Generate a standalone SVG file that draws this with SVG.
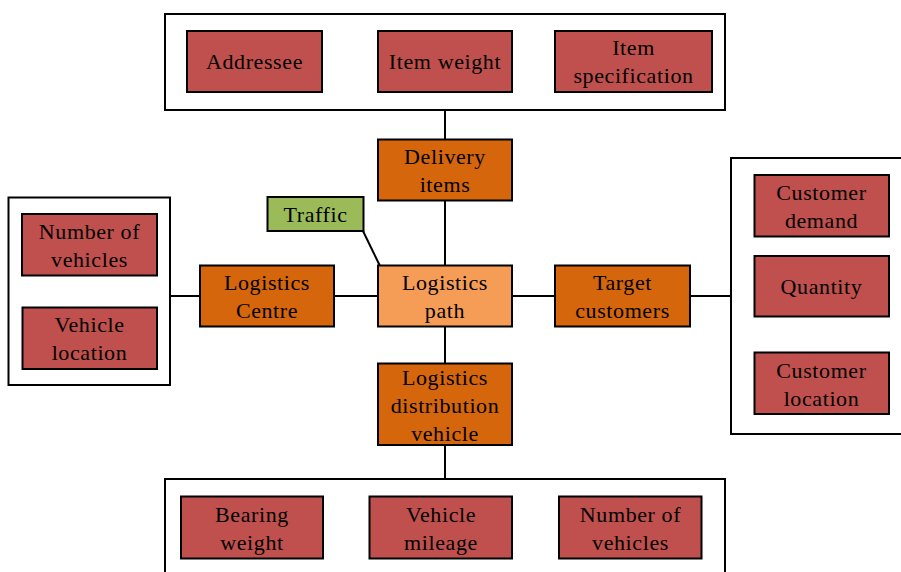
<svg xmlns="http://www.w3.org/2000/svg" width="901" height="572" viewBox="0 0 901 572">
<style>
.c,.r,.o,.p,.g{stroke:#000;stroke-width:2}
.c{fill:#fff}
.r{fill:#C0504D}
.o{fill:#D5660B}
.p{fill:#F59D57}
.g{fill:#9BBB59}
text{font-family:"Liberation Serif","Times New Roman",serif;font-size:22px;letter-spacing:0.6px;text-anchor:middle;fill:#000}
.l line{stroke:#000;stroke-width:2}
</style>
<rect width="901" height="572" fill="#fff"/>
<g class="l" id="connectors">
<line x1="445" y1="110" x2="445" y2="139"/>
<line x1="445" y1="200" x2="445" y2="266"/>
<line x1="445" y1="327" x2="445" y2="363"/>
<line x1="445" y1="445" x2="445" y2="479"/>
<line x1="170" y1="296" x2="200" y2="296"/>
<line x1="334" y1="296" x2="378" y2="296"/>
<line x1="512" y1="296" x2="555" y2="296"/>
<line x1="690" y1="296" x2="731" y2="296"/>
<line x1="363" y1="231" x2="380" y2="266"/>
</g>
<g id="top-group"><rect class="c" x="165" y="14" width="560" height="96"/></g>
<g id="left-group"><rect class="c" x="8.5" y="197.5" width="161.5" height="187.5"/></g>
<g id="right-group"><rect class="c" x="731" y="158" width="200" height="276"/></g>
<g id="bottom-group"><rect class="c" x="165" y="479" width="560" height="120"/></g>

<g id="addressee"><rect class="r" x="187" y="31" width="135" height="61"/><text x="254.5" y="69">Addressee</text></g>
<g id="item-weight"><rect class="r" x="378" y="31" width="134" height="61"/><text x="445" y="69">Item weight</text></g>
<g id="item-spec"><rect class="r" x="555" y="31" width="157" height="61"/><text x="633.5" y="55">Item</text><text x="633.5" y="83">specification</text></g>

<g id="delivery-items"><rect class="o" x="378" y="139.5" width="134" height="61"/><text x="445" y="163.5">Delivery</text><text x="445" y="191.5">items</text></g>
<g id="traffic"><rect class="g" x="267.5" y="197" width="96" height="34"/><text x="315.5" y="221.5">Traffic</text></g>

<g id="num-vehicles-left"><rect class="r" x="22" y="214" width="135" height="61.5"/><text x="89.5" y="238.5">Number of</text><text x="89.5" y="266.5">vehicles</text></g>
<g id="vehicle-location"><rect class="r" x="22.5" y="307.5" width="134.5" height="61.5"/><text x="89.5" y="332">Vehicle</text><text x="89.5" y="360">location</text></g>

<g id="logistics-centre"><rect class="o" x="200" y="265.5" width="134" height="61"/><text x="267" y="290">Logistics</text><text x="267" y="318">Centre</text></g>
<g id="logistics-path"><rect class="p" x="378" y="265.5" width="134" height="61"/><text x="445" y="290">Logistics</text><text x="445" y="318">path</text></g>
<g id="target-customers"><rect class="o" x="555" y="265.5" width="135" height="61"/><text x="622.5" y="290">Target</text><text x="622.5" y="318">customers</text></g>

<g id="customer-demand"><rect class="r" x="754.5" y="175" width="134.5" height="61.5"/><text x="821.5" y="199.5">Customer</text><text x="821.5" y="227.5">demand</text></g>
<g id="quantity"><rect class="r" x="754.5" y="256" width="134.5" height="60.5"/><text x="821.5" y="293.5">Quantity</text></g>
<g id="customer-location"><rect class="r" x="754.5" y="352.5" width="134.5" height="61.5"/><text x="821.5" y="377.5">Customer</text><text x="821.5" y="405.5">location</text></g>

<g id="ldv"><rect class="o" x="378" y="363.5" width="134" height="81.5"/><text x="445" y="384.5">Logistics</text><text x="445" y="412.5">distribution</text><text x="445" y="440.5">vehicle</text></g>

<g id="bearing-weight"><rect class="r" x="181" y="496.5" width="142" height="62"/><text x="252" y="522">Bearing</text><text x="252" y="550">weight</text></g>
<g id="vehicle-mileage"><rect class="r" x="369.5" y="496.5" width="142.5" height="62"/><text x="441" y="522">Vehicle</text><text x="441" y="550">mileage</text></g>
<g id="num-vehicles-bottom"><rect class="r" x="559" y="496.5" width="142.5" height="62"/><text x="630.5" y="522">Number of</text><text x="630.5" y="550">vehicles</text></g>
</svg>
